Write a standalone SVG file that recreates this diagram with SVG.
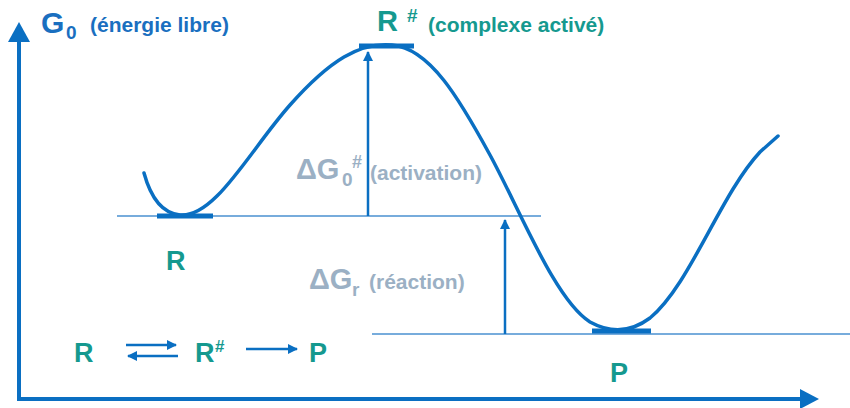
<svg xmlns="http://www.w3.org/2000/svg" width="850" height="408" viewBox="0 0 850 408">
<style>
.ax{stroke:#0a6fc2;stroke-width:4;fill:none}
.lvl{stroke:#4a90d0;stroke-width:1.6;fill:none}
.bar{stroke:#0a6fc2;stroke-width:5;fill:none}
.cv{stroke:#0a6fc2;stroke-width:3.5;fill:none;stroke-linecap:round}
.ar{stroke:#0a6fc2;stroke-width:2.5;fill:none}
text{font-family:"Liberation Sans",Arial,sans-serif;font-weight:bold}
.bl{fill:#1a6fc0}
.tl{fill:#15998f}
.gr{fill:#9bb0c4}
</style>
<defs>
<marker id="ah" viewBox="0 0 10 10" refX="9" refY="5" markerWidth="4" markerHeight="4" orient="auto"><path d="M0,0L10,5L0,10z" fill="#0a6fc2"/></marker>
</defs>
<g id="axes">
<path class="ax" d="M19,40V399H802"/>
<path d="M19,22L8,42H30z" fill="#0a6fc2"/>
<path d="M819,399L800,389V409z" fill="#0a6fc2"/>
</g>
<g id="levels">
<path class="lvl" d="M117,216H541"/>
<path class="lvl" d="M372,334H850"/>
<path class="bar" d="M157,216H213"/>
<path class="bar" d="M359,46H414"/>
<path class="bar" d="M592,331H651"/>
</g>
<g id="curve">
<path class="cv" d="M144,173C150,195 160,213 180,215C215,218 250,150 290,105C330,60 360,42 392,45C430,48 460,100 490,155C520,210 555,300 590,322C610,333 630,333 650,318C690,285 720,195 760,152L778,136"/>
</g>
<g id="connectors">
<path class="ar" d="M368,216V52" marker-end="url(#ah)"/>
<path class="ar" d="M505,334V220" marker-end="url(#ah)"/>
<path class="ar" d="M126,345H176" marker-end="url(#ah)"/>
<path class="ar" d="M178,356H128" marker-end="url(#ah)"/>
<path class="ar" d="M246,349H297" marker-end="url(#ah)"/>
</g>
<g id="label-G0">
<text class="bl" x="41" y="33" font-size="30">G</text>
<text class="bl" x="66" y="39" font-size="19">0</text>
<text class="bl" x="90" y="32" font-size="21">(énergie libre)</text>
</g>
<g id="label-Rsharp">
<text class="tl" x="377" y="31" font-size="29">R</text>
<text class="tl" x="407" y="22" font-size="19">#</text>
<text class="tl" x="428" y="32" font-size="21">(complexe activé)</text>
</g>
<g id="label-dG0">
<text class="gr" x="296" y="179" font-size="29">ΔG</text>
<text class="gr" x="342" y="186" font-size="19">0</text>
<text class="gr" x="352" y="168" font-size="18">#</text>
<text class="gr" x="370" y="180" font-size="21">(activation)</text>
</g>
<g id="label-dGr">
<text class="gr" x="309" y="289" font-size="29">ΔG</text>
<text class="gr" x="352" y="296" font-size="19">r</text>
<text class="gr" x="369" y="289" font-size="21">(réaction)</text>
</g>
<g id="label-R"><text class="tl" x="166" y="270" font-size="27">R</text></g>
<g id="label-P"><text class="tl" x="610" y="382" font-size="27">P</text></g>
<g id="eq">
<text class="tl" x="74" y="362" font-size="27">R</text>
<text class="tl" x="195" y="362" font-size="27">R</text>
<text class="tl" x="215" y="352" font-size="17">#</text>
<text class="tl" x="309" y="362" font-size="27">P</text>
</g>
</svg>
